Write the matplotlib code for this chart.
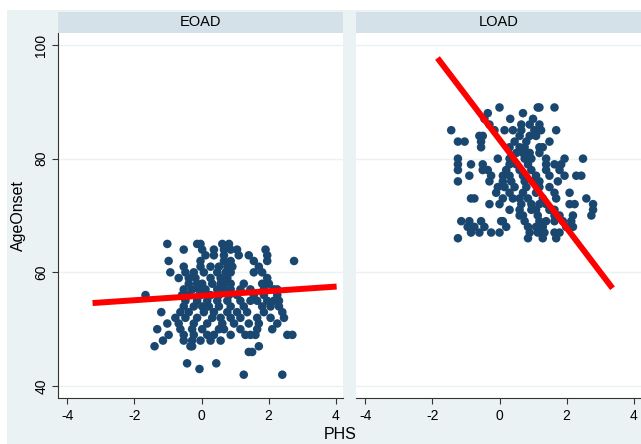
import matplotlib
matplotlib.use("Agg")
import matplotlib.pyplot as plt
from matplotlib.patches import Rectangle

plt.rcParams['font.family'] = ['Liberation Sans', 'DejaVu Sans']

# --- data: age of onset (rows) and PHS values ---
eoad_rows = {
    65: [-1.02, -0.13, -0.03, 0.62, 0.82],
    64: [-0.53, 0.02, 0.37, 0.67, 0.87, 1.06, 1.91],
    63: [0.12, 0.37, 0.67, 1.11, 1.41, 1.96],
    62: [-0.98, -0.03, 0.67, 0.87, 1.56, 1.96, 2.76],
    61: [-0.53, -0.03, 0.27, 0.52, 0.77, 0.92, 1.71],
    60: [-0.93, -0.48, -0.23, 0.07, 0.47, 0.72, 0.87, 1.56, 1.81],
    59: [-0.68, -0.38, -0.18, 0.27, 0.57, 0.77, 1.96],
    58: [-0.38, -0.13, 0.02, 0.32, 0.57, 0.67, 0.87, 1.26, 1.81, 2.01],
    57: [-0.53, -0.28, -0.08, 0.12, 0.47, 0.67, 0.87, 1.16, 1.46, 1.86, 2.16, 2.26],
    56: [-1.67, -0.58, -0.38, -0.03, 0.27, 0.52, 0.82, 1.06, 1.56, 1.86, 2.26],
    55: [-0.48, -0.13, 0.17, 0.47, 0.77, 1.16, 1.46, 1.66, 1.96, 2.16, 2.31],
    54: [-0.53, -0.23, 0.02, 0.22, 0.52, 0.87, 1.26, 1.81, 2.06, 2.31],
    53: [-1.2, -0.63, -0.38, 0.07, 0.37, 0.77, 1.06, 1.36, 1.86, 2.41],
    52: [-0.78, -0.48, -0.13, 0.32, 0.57, 0.87, 1.16, 1.66, 2.06, 2.46],
    51: [-1.02, -0.68, -0.23, 0.17, 0.62, 0.97, 1.41, 1.71, 2.26],
    50: [-1.32, -0.63, -0.28, 0.02, 0.52, 0.67, 1.16, 1.66, 2.11],
    49: [-0.98, -0.53, -0.23, 0.17, 0.37, 0.87, 1.31, 1.46, 1.61, 2.56, 2.71],
    48: [-1.15, -0.53, -0.28, -0.03, 0.27, 0.57],
    47: [-1.4, -0.33, -0.28, 1.71],
    46: [1.41, 1.51],
    44: [-0.43, 0.44],
    43: [-0.06],
    42: [1.26, 2.41],
}

load_rows = {
    89: [0.0, 1.14, 1.19, 1.64],
    88: [-0.35, 0.7],
    87: [-0.45, 0.32, 1.0],
    86: [-0.3, 0.65, 0.9, 1.19],
    85: [-1.44, -0.15, 0.15, 0.4, 0.65, 1.04, 1.24, 1.69],
    84: [-0.6, -0.5, 0.6, 0.9, 1.09],
    83: [-1.24, -1.04, -0.55, 0.45, 0.8, 1.49],
    82: [-0.55, 0.3, 0.6, 0.75, 1.19, 1.29],
    81: [0.5, 0.7, 0.9, 1.19],
    80: [-1.24, -0.05, 0.3, 0.75, 0.95, 1.39, 1.94, 2.49],
    79: [-1.24, -0.85, -0.5, 0.3, 0.5, 0.85, 1.39, 1.64, 1.84],
    78: [-1.24, -0.5, -0.35, 0.2, 0.6, 0.95, 1.39, 1.79],
    77: [-0.9, -0.25, 0.1, 0.3, 0.7, 1.09, 1.49, 1.94, 2.29, 2.44],
    76: [-1.24, -0.3, 0.1, 0.35, 0.75, 1.0, 1.19, 1.74],
    75: [-0.05, 0.15, 0.45, 0.8, 1.19, 1.49],
    74: [-0.1, 0.3, 0.7, 1.09, 1.64, 2.09],
    73: [-0.85, -0.75, 0.1, 0.4, 0.6, 0.85, 1.29, 1.69, 2.59],
    72: [-0.3, 0.0, 0.65, 0.95, 1.19, 1.39, 2.09, 2.24, 2.79],
    71: [0.3, 0.6, 0.95, 1.09, 1.49, 1.64, 2.79],
    70: [0.6, 0.7, 1.14, 1.64, 1.79, 2.19, 2.74],
    69: [-1.14, -0.9, -0.55, 0.05, 0.1, 0.75, 1.19, 1.39, 1.64, 1.89, 2.14],
    68: [-0.95, -0.75, -0.45, 0.2, 0.85, 1.09, 1.29, 1.99, 2.19],
    67: [-0.85, -0.6, -0.25, 0.0, 0.9, 1.14, 1.34, 1.64, 1.79],
    66: [-1.24, 0.85, 1.29, 1.69],
}

# fitted lines (end points)
eoad_fit_x = [-3.25, 4.03]
eoad_fit_y = [54.6, 57.5]
load_fit_x = [-1.85, 3.37]
load_fit_y = [97.7, 57.2]

panels = ['EOAD', 'LOAD']
xticks = [-4, -2, 0, 2, 4]
yticks = [40, 60, 80, 100]

BG = '#eaf2f3'
STRIP = '#d4e1e8'
NAVY = '#1a476f'


def to_xy(rows):
    xs, ys = [], []
    for age, vals in rows.items():
        for v in vals:
            xs.append(v)
            ys.append(age)
    return xs, ys


W, H = 641, 444
fig = plt.figure(figsize=(W / 100, H / 100), dpi=100)
fig.patch.set_facecolor('white')
fig.patches.append(Rectangle((7 / W, 0), 1 - 7 / W, 1 - 10 / H, transform=fig.transFigure,
                             facecolor=BG, edgecolor='none', zorder=-10))

ax_bottom = 1 - 398 / H
ax_h = (398 - 33) / H
strip_h = (33 - 12) / H
lefts = [58 / W, 356 / W]
width = 285 / W

data = [(to_xy(eoad_rows), eoad_fit_x, eoad_fit_y), (to_xy(load_rows), load_fit_x, load_fit_y)]

for i, (name, left) in enumerate(zip(panels, lefts)):
    ax = fig.add_axes([left, ax_bottom, width, ax_h])
    (xs, ys), fx, fy = data[i]
    ax.set_facecolor('white')
    for yv in yticks:
        ax.axhline(yv, color=BG, lw=1.0, zorder=0)
    ax.scatter(xs, ys, s=38, color=NAVY, edgecolors='none', zorder=2)
    ax.plot(fx, fy, color='#ff0000', lw=4.3, solid_capstyle='butt', zorder=3)
    ax.set_xlim(-4.28, 4.22)
    ax.set_ylim(37.9, 102.1)
    ax.set_xticks(xticks)
    ax.set_xticklabels([str(t) for t in xticks], fontsize=10)
    for s in ['top', 'right']:
        ax.spines[s].set_visible(False)
    ax.spines['bottom'].set_color('#333333')
    ax.spines['bottom'].set_linewidth(0.8)
    ax.tick_params(axis='x', length=4, width=0.8, color='#333333', pad=4)
    if i == 0:
        ax.set_yticks(yticks)
        ax.set_yticklabels([str(t) for t in yticks], fontsize=10, rotation=90, va='center')
        ax.tick_params(axis='y', length=4, width=0.8, color='#333333', pad=3)
        ax.spines['left'].set_color('#333333')
        ax.spines['left'].set_linewidth(0.8)
    else:
        ax.spines['left'].set_visible(False)
        ax.set_yticks([])

    sax = fig.add_axes([left, ax_bottom + ax_h, width, strip_h])
    sax.set_facecolor(STRIP)
    sax.set_xticks([])
    sax.set_yticks([])
    for s in sax.spines.values():
        s.set_visible(False)
    sax.text(0.5, 0.5, name, ha='center', va='center', fontsize=10.5, transform=sax.transAxes)

fig.text(340 / W, 1 - 434 / H, 'PHS', ha='center', va='center', fontsize=11.5)
fig.text(18 / W, 1 - 215 / H, 'AgeOnset', ha='center', va='center', fontsize=11.5, rotation=90)

fig.savefig('out.png', dpi=100, facecolor=fig.get_facecolor())
